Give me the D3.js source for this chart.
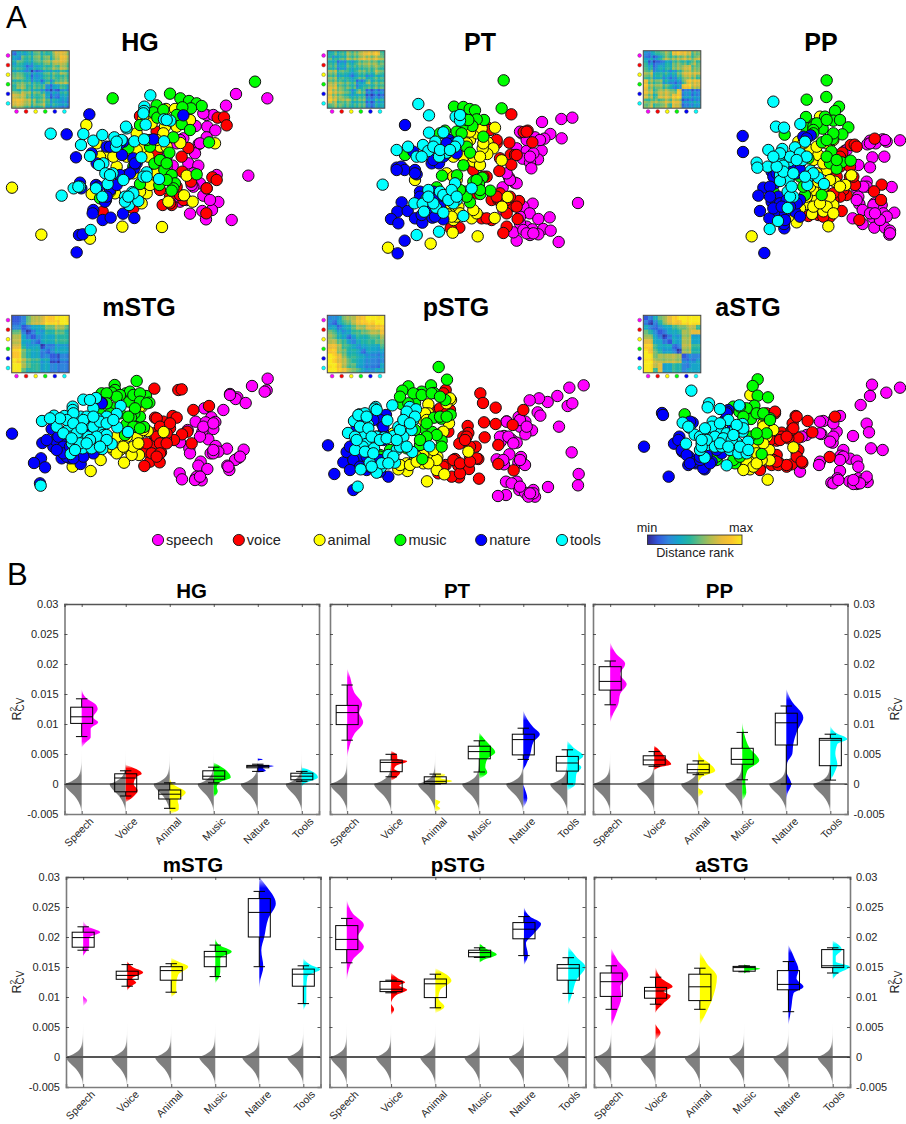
<!DOCTYPE html>
<html>
<head>
<meta charset="utf-8">
<script src="https://d3js.org/d3.v7.min.js"></script>
<style>
  body { margin: 0; background: #fff; }
  text { font-family: "Liberation Sans", Arial, sans-serif; }
</style>
</head>
<body>
<div id="fig"></div>
<script>
const categories = ["speech", "voice", "animal", "music", "nature", "tools"];
const xLabels = ["Speech", "Voice", "Animal", "Music", "Nature", "Tools"];
const catColors = ["#ff00ff", "#ff0000", "#ffff00", "#00ff00", "#0000ff", "#00ffff"];
const yTicks = [30, 25, 20, 15, 10, 5, 0, -5]; // R2 x 1000

// MDS coordinates, arbitrary units
const mdsHG_speech = [[708,282],[802,295],[678,317],[745,527],[695,660],[655,606],[570,641],[618,658],[636,630],[607,633],[620,345],[640,345],[622,380],[646,391],[620,412],[596,432],[585,460],[565,490],[595,497],[518,497],[500,470],[650,525],[587,378],[550,415],[600,550],[580,560],[610,587],[560,600],[540,605],[620,565],[530,430],[575,555],[610,340],[630,600],[600,430],[540,420],[500,500],[535,590],[580,520]];
const mdsHG_voice = [[653,353],[672,352],[680,376],[420,348],[565,444],[545,470],[547,515],[573,545],[637,532],[650,540],[620,565],[550,600],[488,615],[515,615],[619,640],[308,635],[400,625],[470,395],[450,465],[480,570],[510,590],[500,415],[470,460],[540,585],[510,610],[450,420],[530,560]];
const mdsHG_animal = [[36,563],[124,704],[367,680],[486,681],[270,716],[259,375],[578,605],[552,586],[560,527],[645,430],[541,429],[498,327],[525,327],[495,380],[570,360],[410,400],[430,445],[320,460],[275,582],[345,580],[440,580],[425,610],[455,540],[505,605],[430,355],[490,400],[400,520],[480,440],[290,430],[470,420],[500,440],[445,470],[410,450],[380,470],[350,500],[450,555],[470,520],[340,470],[300,470],[330,575],[400,585],[420,575],[530,380],[455,370]];
const mdsHG_music = [[765,245],[338,295],[510,281],[541,295],[567,303],[590,310],[605,318],[573,325],[547,322],[470,316],[460,337],[472,353],[545,372],[570,390],[420,375],[520,412],[627,427],[450,440],[508,458],[463,491],[480,480],[493,510],[515,525],[590,523],[525,550],[520,565],[515,572],[478,555],[420,552],[400,500],[300,595],[385,445],[500,540],[440,420],[490,330],[530,345],[500,490]];
const mdsHG_nature = [[268,343],[200,403],[228,472],[550,346],[460,418],[320,440],[366,465],[275,460],[290,490],[400,475],[403,505],[380,525],[240,548],[244,565],[288,555],[330,570],[318,600],[315,605],[280,630],[278,640],[308,660],[332,653],[369,641],[403,654],[237,705],[248,703],[230,757],[370,425],[345,440],[360,525],[410,490],[300,495],[295,560],[330,440],[360,430],[390,520],[350,555],[405,490],[320,590]];
const mdsHG_tools = [[451,286],[433,320],[432,333],[380,385],[378,380],[437,374],[511,362],[492,358],[152,401],[250,402],[243,435],[280,422],[307,405],[343,412],[348,440],[403,424],[432,418],[492,424],[270,468],[310,490],[297,495],[424,472],[316,520],[338,520],[323,552],[370,540],[440,517],[430,530],[477,537],[221,565],[240,560],[185,587],[288,565],[307,590],[375,590],[397,576],[387,615],[415,603],[272,690],[365,420],[350,425],[400,580],[440,530],[500,360],[375,605],[385,590],[430,340],[235,560],[330,525]];

const mdsPT_speech = [[726,366],[784,357],[817,353],[785,415],[751,402],[733,416],[705,412],[665,400],[650,445],[680,453],[725,452],[668,476],[714,478],[690,488],[694,505],[627,532],[644,548],[650,550],[608,562],[834,609],[776,726],[698,611],[670,620],[689,640],[715,657],[749,652],[680,680],[697,688],[730,687],[752,692],[690,705],[715,703],[650,722],[640,697],[660,670],[640,610],[610,630],[660,395],[680,420],[720,420],[700,460],[690,470],[660,650],[670,690],[680,700],[700,700],[630,540],[620,520]];
const mdsPT_voice = [[634,343],[683,392],[671,396],[697,427],[628,428],[632,464],[645,465],[634,494],[598,513],[600,475],[590,430],[560,380],[560,530],[520,505],[575,600],[600,580],[595,600],[640,618],[657,603],[620,640],[653,657],[620,680],[610,699],[478,683],[452,685],[545,655],[575,660],[530,580],[650,465],[680,395],[600,600],[620,600],[650,620],[560,655],[590,420],[570,390],[520,510],[550,530],[590,590],[630,590]];
const mdsPT_animal = [[585,383],[605,481],[563,427],[580,445],[562,462],[548,445],[520,484],[540,495],[510,420],[490,470],[345,540],[440,520],[470,540],[623,591],[606,620],[584,654],[533,709],[515,655],[530,640],[458,698],[392,731],[264,743],[460,660],[455,640],[475,620],[530,400],[545,385],[500,430],[550,430],[520,470],[540,470],[460,470],[470,650],[440,640],[450,610],[480,640],[520,630],[510,395],[440,460],[460,530],[455,650]];
const mdsPT_music = [[611,241],[605,325],[462,320],[490,321],[509,327],[525,331],[552,360],[530,358],[517,378],[487,380],[478,400],[435,392],[550,410],[500,440],[510,458],[490,496],[426,527],[471,526],[547,533],[537,552],[520,545],[495,575],[541,582],[571,572],[510,607],[410,562],[315,465],[420,400],[500,360],[470,395],[485,400],[540,570],[500,590],[480,570],[530,540],[505,360]];
const mdsPT_nature = [[315,375],[447,420],[340,455],[470,460],[395,490],[417,490],[290,503],[304,500],[314,510],[345,510],[350,523],[360,575],[305,607],[292,635],[323,633],[273,657],[295,670],[345,655],[367,668],[397,653],[430,658],[410,610],[380,630],[314,722],[293,760],[400,575],[400,480],[430,470],[460,430],[440,430],[345,520],[360,590],[400,600],[420,630],[405,650],[365,645],[290,510],[420,620]];
const mdsPT_tools = [[355,312],[387,346],[467,350],[480,362],[387,398],[430,397],[369,435],[406,425],[475,425],[465,440],[290,450],[324,440],[385,453],[350,470],[365,470],[440,458],[417,470],[248,554],[465,550],[385,570],[420,575],[440,585],[450,590],[470,600],[515,565],[380,595],[343,610],[368,611],[372,635],[408,623],[430,638],[490,648],[350,705],[417,695],[460,610],[400,440],[420,450],[450,450],[480,345],[430,585],[445,600],[455,570],[400,610],[385,590],[470,590]];

const mdsPP_speech = [[900,421],[860,425],[848,418],[810,422],[802,433],[827,430],[817,472],[853,470],[810,502],[775,495],[735,452],[875,561],[800,545],[800,560],[770,565],[775,590],[778,612],[788,630],[823,610],[845,615],[850,640],[883,638],[860,650],[818,652],[788,672],[758,655],[823,683],[855,683],[870,692],[868,704],[810,430],[855,420],[790,560],[820,615],[810,640],[840,660],[870,700],[770,600],[740,450],[825,640]];
const mdsPP_voice = [[824,416],[752,435],[764,434],[727,458],[750,530],[765,555],[845,554],[822,574],[843,600],[778,660],[725,633],[690,650],[655,645],[625,648],[740,585],[715,570],[700,520],[720,500],[770,440],[730,570],[720,590],[700,600],[650,620],[690,630],[720,470],[750,500],[710,530],[760,530],[700,580],[670,650]];
const mdsPP_animal = [[455,709],[685,679],[670,634],[636,642],[590,667],[700,615],[690,590],[736,555],[754,526],[705,545],[660,570],[650,600],[620,612],[640,480],[630,450],[655,465],[680,510],[595,425],[660,350],[700,420],[565,650],[670,560],[650,440],[670,490],[650,520],[640,570],[690,540],[620,590],[640,620],[680,620],[700,640],[660,610],[610,430],[680,430],[630,560],[720,560],[655,545],[600,625]];
const mdsPP_music = [[680,241],[679,291],[620,299],[717,320],[705,333],[700,362],[675,350],[618,351],[643,372],[668,386],[620,385],[745,382],[727,403],[698,417],[666,427],[554,404],[694,454],[690,490],[725,487],[752,482],[710,506],[625,475],[600,530],[520,575],[615,585],[665,585],[595,510],[640,380],[650,370],[680,360],[640,390],[700,400],[680,470],[710,480],[610,560],[600,470],[580,510],[640,400],[720,360],[680,420]];
const mdsPP_nature = [[428,408],[429,456],[632,406],[515,515],[600,490],[570,530],[525,550],[490,563],[475,587],[535,590],[515,606],[540,610],[600,600],[480,633],[535,635],[585,635],[600,650],[508,655],[553,685],[552,672],[493,759],[590,520],[555,640],[610,410],[620,415],[520,530],[530,520],[560,600],[590,610],[510,560],[570,620],[555,660],[520,625],[545,620],[580,500],[600,510],[510,590]];
const mdsPP_tools = [[520,305],[528,380],[552,383],[601,372],[615,425],[585,442],[505,450],[547,447],[537,473],[470,488],[503,500],[472,503],[568,483],[605,465],[608,480],[550,497],[540,525],[565,525],[632,512],[625,530],[655,533],[565,542],[540,543],[622,555],[672,552],[563,575],[580,590],[563,624],[534,663],[509,687],[570,470],[600,460],[620,470],[640,520],[615,530],[550,515],[580,520],[570,590],[575,560],[530,500],[540,460],[520,470],[590,480]];

const mdsM_speech = [[803,296],[800,331],[794,335],[756,318],[690,342],[712,352],[707,357],[737,369],[670,390],[613,385],[634,412],[587,425],[617,427],[646,426],[640,447],[607,456],[625,478],[647,498],[681,506],[731,509],[715,534],[705,540],[632,520],[655,515],[568,505],[570,520],[540,487],[563,450],[602,545],[595,557],[622,567],[682,557],[688,570],[539,580],[546,598],[587,595],[605,601],[590,590],[600,470],[610,440],[640,430],[640,520],[690,345],[720,530],[585,600],[600,590],[685,560],[640,510]];
const mdsM_voice = [[463,326],[535,330],[545,328],[580,390],[627,378],[465,413],[518,408],[530,413],[490,425],[510,445],[562,455],[546,463],[522,480],[498,477],[575,490],[460,490],[425,500],[483,517],[450,545],[433,558],[479,547],[460,460],[440,515],[470,415],[480,440],[500,460],[470,470],[440,490],[480,490],[510,430],[500,490],[455,520],[480,520],[470,530]];
const mdsM_animal = [[424,382],[491,456],[443,453],[420,460],[345,480],[360,490],[340,510],[385,507],[417,525],[395,525],[372,548],[302,540],[272,573],[218,560],[400,460],[420,380],[410,470],[380,470],[350,470],[330,500],[360,510],[400,500],[350,520],[370,500],[415,490],[430,450],[320,480]];
const mdsM_music = [[410,303],[344,315],[345,330],[335,338],[305,340],[378,340],[410,348],[438,348],[448,368],[388,365],[340,385],[330,400],[420,410],[403,400],[393,413],[380,432],[432,441],[408,441],[375,465],[300,400],[390,335],[360,345],[350,350],[320,340],[400,345],[420,340],[420,365],[405,385],[440,370],[360,400],[400,440],[420,445],[385,410],[320,370]];
const mdsM_nature = [[36,461],[305,368],[127,489],[155,447],[172,480],[160,500],[185,490],[185,535],[123,535],[102,549],[135,562],[210,535],[242,552],[120,610],[205,460],[270,455],[230,510],[180,510],[165,480],[175,470],[190,500],[200,530],[240,470],[300,455],[280,520],[250,530],[220,535],[140,480],[190,520],[170,510],[210,500],[305,370]];
const mdsM_tools = [[250,359],[288,354],[218,380],[218,390],[362,378],[126,423],[162,407],[193,408],[170,440],[242,410],[280,385],[350,402],[320,410],[292,416],[237,437],[265,432],[205,448],[295,445],[352,442],[384,456],[250,476],[213,470],[310,465],[216,490],[280,490],[303,485],[335,492],[248,505],[275,505],[307,507],[212,522],[122,617],[320,465],[265,470],[270,360],[220,400],[200,420],[260,410],[250,420],[220,430],[280,440],[300,425],[320,430],[190,460],[230,460],[240,490],[290,470],[270,480],[225,510],[320,480],[340,420],[180,415],[150,415],[215,475],[260,490],[300,500],[280,410],[245,445]];

const mdsP_speech = [[851,316],[808,323],[772,348],[743,366],[717,355],[689,361],[803,378],[817,370],[713,397],[721,407],[777,440],[656,411],[620,424],[676,425],[660,440],[696,451],[676,463],[612,468],[602,485],[635,479],[650,488],[815,517],[628,523],[663,531],[655,548],[675,555],[590,538],[612,553],[836,582],[834,616],[744,621],[618,605],[650,605],[635,610],[658,630],[675,638],[700,630],[705,650],[685,650],[618,645],[594,648],[620,425],[660,420],[680,440],[600,470],[625,470],[640,490],[660,540],[700,640],[690,640],[660,620],[610,540]];
const mdsP_voice = [[541,340],[549,369],[587,383],[437,330],[670,390],[552,427],[587,432],[638,435],[415,390],[445,385],[503,438],[505,459],[490,470],[478,491],[527,500],[554,472],[595,495],[595,552],[641,571],[535,537],[510,530],[537,596],[507,567],[477,592],[455,590],[465,537],[475,557],[437,555],[415,580],[445,395],[430,340],[420,385],[450,390],[500,470],[510,500],[530,535],[495,480],[480,580],[460,540],[430,560],[480,550],[510,545],[440,400],[445,455]];
const mdsP_animal = [[453,360],[385,373],[370,420],[385,400],[447,430],[425,458],[505,515],[412,530],[385,525],[410,570],[433,583],[381,604],[322,573],[295,568],[340,545],[370,550],[320,550],[280,460],[375,400],[440,370],[450,355],[430,455],[410,540],[370,525],[350,530],[300,555],[385,550],[400,510],[380,420],[290,480],[330,555],[350,545]];
const mdsP_music = [[416,261],[441,299],[325,319],[307,332],[393,316],[365,335],[402,339],[350,345],[436,360],[305,372],[345,370],[452,404],[402,413],[424,416],[375,447],[397,456],[372,478],[425,482],[360,495],[425,500],[367,537],[315,500],[240,525],[270,510],[340,340],[365,345],[395,340],[420,350],[380,430],[420,410],[440,410],[410,465],[380,470],[345,450],[325,370],[300,350],[240,530],[320,505],[360,480]];
const mdsP_nature = [[84,496],[103,582],[160,630],[130,547],[140,516],[165,558],[178,530],[265,590],[258,405],[245,430],[200,570],[240,540],[250,460],[320,400],[180,425],[165,490],[230,470],[170,440],[150,500],[160,540],[180,560],[240,420],[220,420],[250,440],[330,390],[300,490],[210,560],[240,575],[250,480],[200,530],[150,570]];
const mdsP_tools = [[227,381],[224,386],[277,376],[329,381],[348,388],[178,403],[195,400],[162,423],[316,414],[262,421],[340,420],[204,434],[295,441],[335,450],[144,459],[192,465],[165,470],[230,470],[252,472],[280,468],[310,470],[198,492],[188,500],[222,505],[290,510],[265,525],[337,516],[209,548],[285,548],[182,568],[243,562],[230,578],[173,620],[388,499],[165,510],[230,390],[180,440],[205,445],[175,405],[200,410],[320,395],[345,410],[300,450],[310,420],[170,480],[215,470],[240,480],[260,475],[195,515],[220,520],[280,530],[300,500],[320,500],[245,550],[215,560],[265,550],[290,480],[330,430]];

const mdsA_speech = [[816,314],[900,323],[859,338],[810,348],[782,375],[720,408],[695,425],[670,423],[800,431],[807,457],[759,468],[710,455],[664,462],[620,465],[698,488],[813,505],[848,510],[730,510],[722,527],[750,536],[770,542],[775,560],[660,545],[657,555],[720,573],[600,575],[712,595],[694,608],[748,604],[803,606],[775,595],[770,612],[760,612],[790,600],[800,590],[700,610],[715,600],[780,610],[700,470],[730,530],[720,540],[660,425],[700,430],[760,600],[690,485],[660,460],[605,470]];
const mdsA_voice = [[705,410],[587,408],[623,423],[637,457],[595,473],[565,475],[545,458],[530,482],[578,430],[575,450],[590,518],[607,549],[575,553],[537,548],[525,400],[560,560],[515,555],[689,531],[530,525],[480,565],[505,440],[590,410],[580,445],[545,470],[595,510],[590,530],[605,545],[535,555],[560,555],[520,540],[510,480],[540,480],[500,400],[525,395],[560,470],[530,545],[480,570]];
const mdsA_animal = [[451,345],[520,450],[503,599],[580,502],[508,510],[509,541],[470,541],[430,562],[450,568],[455,548],[490,430],[465,500],[485,540],[500,470],[470,520],[440,545],[460,560],[470,550],[490,490],[490,440],[430,570]];
const mdsA_music = [[473,298],[458,318],[473,347],[504,352],[463,377],[400,380],[418,395],[487,404],[510,415],[453,417],[254,403],[474,478],[485,522],[405,550],[350,540],[430,385],[500,460],[440,385],[420,380],[470,400],[490,400],[430,410],[450,470],[470,460],[400,540],[350,530],[420,530],[510,420]];
const mdsA_nature = [[186,399],[189,405],[132,500],[206,590],[385,390],[375,420],[278,428],[238,470],[222,491],[247,515],[267,530],[265,555],[287,550],[314,568],[335,545],[305,525],[365,520],[270,425],[235,480],[245,510],[260,525],[285,545],[310,565],[330,550],[270,550],[300,540],[380,395],[395,450],[350,510],[320,525],[380,400],[300,530]];
const mdsA_tools = [[274,332],[327,370],[323,382],[360,387],[418,376],[248,428],[268,443],[338,425],[385,420],[428,432],[284,464],[317,455],[360,445],[428,455],[380,460],[258,491],[305,490],[320,495],[410,487],[444,485],[390,510],[415,520],[440,520],[314,533],[380,556],[340,470],[365,480],[300,510],[265,440],[335,440],[360,430],[405,450],[430,445],[345,470],[370,475],[395,480],[300,470],[320,480],[305,500],[345,500],[365,500],[420,500],[445,510],[410,435],[360,490],[315,445],[400,465],[385,500],[305,480]];

// distance rank 0-9, upper triangle of the binned matrix, one string per row
const rdmHG = ["233445445776","24445454676","3334455665","233445565","22344454","2344444","243555","22343","2233","233","22","2"];
const rdmPT = ["344455567774","34455566665","3344556655","344445554","33444454","3443444","225444","34444","2222","222","33","3"];
const rdmPP = ["224455777655","22355556556","2234555465","334556655","33346666","3346665","225777","27766","2222","222","33","3"];
const rdmM = ["112566788999","12566788899","1233455665","123344554","12333444","1333444","122333","12333","1122","122","22","2"];
const rdmP = ["223566789999","13456788899","2345667788","234455667","23444556","2344455","233334","23333","2222","222","23","3"];
const rdmA = ["123567899999","12467889999","1233455664","123346677","12336633","1336633","126644","16644","1222","223","33","3"];

// bin-to-bin streaks seen in the matrices, 0-4 (2 = none)
const streakHG = "213242130423142304213241";
const streakPT = "231402314203142413024132";
const streakPP = "321402231420314213240312";
const streakM = "222322122232123222312221";
const streakP = "223212232122322123222132";
const streakA = "222132221222321222132222";

// boxplots: lo whisker, q1, median, q3, hi whisker (R2 x 1000), one row per category
const boxHG = [[7.9,10.1,11.2,12.8,14.2],[-2.0,-1.3,1.0,1.7,2.2],[-4.05,-2.5,-1.7,-1.0,0.2],[0.2,0.8,1.3,2.2,2.8],[2.1,2.7,2.95,3.1,3.3],[0.45,0.7,1.3,1.8,2.1]];
const boxPT = [[7.3,9.9,11.9,13.1,16.5],[1.2,2.05,3.6,4.0,4.95],[0,0.1,0.45,1.2,1.65],[2.0,4.2,5.4,6.3,7.2],[4.1,4.85,7.4,8.3,9.3],[0,2.15,3.5,4.6,5.7]];
const boxPP = [[13.2,15.65,17.1,19.55,20.5],[2.95,3.2,4.0,4.7,5.4],[1.55,1.85,2.4,3.3,3.85],[0.7,3.3,4.1,5.95,8.6],[0,6.5,10.2,11.8,13],[0.65,3.05,7.3,7.6,8.3]];
const boxM = [[17.8,18.3,19.9,20.8,21.7],[11.8,12.95,13.6,14.3,15.4],[10.8,12.8,14.4,15.05,15.55],[13.4,15.05,16.7,17.6,18.65],[15.05,20,24.1,26.4,27.6],[8.9,11.8,13.8,14.65,15.2]];
const boxP = [[15.7,17.9,19.6,21.9,23.1],[10.7,10.9,11.3,12.6,12.8],[8.2,9.9,12.2,13,13.8],[16.6,16.7,17.4,17.8,18.2],[16.9,19.7,21.3,22.4,23.4],[10.6,12.8,14.8,15.4,16.55]];
const boxA = [[7.95,10.1,12.55,14,15.2],[8.8,9.8,11,11.6,13.3],[7.95,9.4,11.7,13.8,14.8],[14.2,14.3,14.9,15.1,15.2],[7.55,11.2,12.1,14.4,15.9],[14,14.9,15.2,17.9,18.2]];

// half violins: [R2 x 1000, density]
const vioHG = [
  [[15.8,0],[14.4,4],[13.05,15],[12.5,16],[11.1,11.5],[10.3,16.5],[9.2,9],[7.8,9],[6.9,4],[6.1,0]],
  [[3.2,0],[1.7,16],[1.1,10],[0,8],[-1.1,12],[-2.2,7],[-3.05,0]],
  [[1.1,0],[0,3],[-1.4,16],[-2.8,8],[-3.6,9],[-4.2,9],[-5,0]],
  [[3.6,0],[2.2,13],[1.1,17],[0.3,6],[-0.55,3],[-1.2,4],[-2.2,0]],
  [[4.35,0],[4.1,5],[3.9,0],[3.3,0],[3,16],[2.7,5],[2.2,8],[1.85,0]],
  [[2.8,0],[2.3,8],[1.55,15],[1.1,16],[0.45,8],[0,2],[-0.5,0]]
];
const vioPT = [
  [[19.2,0],[17.8,3],[15.3,7],[13.3,15],[11.9,12],[10.3,16],[8.3,7],[6.1,2],[4.4,0]],
  [[5.55,0],[4.7,6],[4.2,6],[3.8,16],[3.05,5],[2.5,3],[1.95,9],[1.1,5],[0.55,0]],
  [[1.95,0],[1.55,10],[1,5],[0.5,17],[-0.1,0],[-2.5,0],[-2.95,5],[-3.6,2],[-4.1,5],[-4.65,0]],
  [[8.6,0],[7.5,5],[6.4,11],[5.3,16],[4.15,8],[2.8,6],[1.95,8],[0.85,0]],
  [[12.2,0],[10.8,4],[9.45,10],[8.3,16.5],[6.95,10],[5,7],[3.3,3],[2.2,0],[0,0],[-0.55,1],[-2.4,4],[-3.9,0]],
  [[7.2,0],[6.1,6],[4.7,16],[3.6,10],[2.8,14],[1.65,9],[0,8],[-1.1,0]]
];
const vioPP = [
  [[23.6,0],[21.7,6],[20.05,15],[18.3,10],[16.65,16.5],[15,10],[13.3,8],[11.7,3],[10.3,0]],
  [[6.4,0],[5.3,7],[4.2,12],[3.3,17],[2.8,5],[2.2,0]],
  [[5.65,0],[4.45,3],[3.45,11],[2.2,17],[1.1,3],[0,0],[-0.55,0],[-1.3,5],[-2.2,0]],
  [[10.3,0],[8.3,2],[6.1,7],[3.9,17],[2.2,5],[0.55,3],[-1.4,4],[-2.8,0]],
  [[15.8,0],[13.9,5],[11.1,17],[8.9,11],[6.65,7],[5,6],[3.6,1],[2.2,0],[0,5],[-1.65,1],[-2.8,0]],
  [[9.7,0],[8.6,5],[7.5,17],[6.65,7],[5,5],[3.3,7],[2.2,5],[0.55,0]]
];
const vioM = [
  [[22.7,0],[21.7,5],[20.8,17],[19.9,6],[18.4,6],[16.7,0],[15.6,0],[10.3,0],[9.4,4],[8.5,0]],
  [[16,0],[15.05,5],[14.1,16],[13.1,5],[12.4,9],[11.7,3],[11.05,0]],
  [[16.55,0],[15.9,7],[15.05,17],[13.7,7],[12,5],[10.9,5],[9.95,0]],
  [[19.8,0],[18.65,4],[17.55,16.5],[16.45,5],[14.2,5],[13.4,4],[12.3,0]],
  [[30,0],[28.7,6],[25.6,16.5],[23.1,9],[20,5],[17.8,2],[15.05,4],[12.8,1],[11.45,0]],
  [[16.45,0],[15.3,8],[14.65,17],[13.4,4],[11.2,3],[9.2,3],[7.8,0]]
];
const vioP = [
  [[26.15,0],[23.9,6],[22,17],[20,11],[18.4,17],[16.2,6],[12.85,0]],
  [[14.05,0],[13.1,7],[12.45,14],[11.9,8],[11.2,16],[10.3,5],[9.5,1],[8.95,0],[7.95,3],[7,0]],
  [[14.8,0],[12.7,16],[11.2,5],[9.8,3],[8.4,9],[7.3,0]],
  [[18.95,0],[18.1,6],[17.1,17],[16.2,4],[15.7,0]],
  [[24.95,0],[23.4,6],[22.2,17],[20.6,10],[18.95,2],[17,4],[15.35,0]],
  [[18.4,0],[16.7,8],[15.05,17],[12.8,8],[10.6,4],[8.65,0]]
];
const vioA = [
  [[18.1,0],[16.2,6],[13.65,17],[11.7,9],[10.05,10],[7.3,5],[5.05,0]],
  [[14.95,0],[13.1,6],[11.7,17],[10.9,8],[10.2,15],[8.95,8],[7.3,0],[5.6,0],[4.05,5],[2.85,0]],
  [[17.55,0],[15.6,7],[13.4,17],[9.5,12],[7.3,6],[5.35,0]],
  [[15.5,0],[15.05,6],[14.7,16],[14.4,6],[13.85,0]],
  [[18.65,0],[16.45,6],[14.5,10],[13.1,8],[11.7,15],[10.6,5],[8.4,3],[7.3,2],[5.35,0]],
  [[19.4,0],[17.9,9],[16.7,3],[15.9,3],[15.05,17],[13.9,5],[12.85,0]]
];

// permutation null, shared shape: [R2 x 1000, fraction of peak]
const nullShape = [[6,0],[5,0.008],[4,0.014],[3,0.035],[2,0.09],[1,0.3],[0.3,0.72],[0,1],[-0.3,0.98],[-1,0.78],[-2,0.42],[-3,0.18],[-4,0.05],[-5,0.012]];
const nullPeakHG = [17,16,16,16,17,16];
const nullPeakPT = [17,17,17,17,17,17];
const nullPeakPP = [17,17,17,17,17,17];
const nullPeakM = [17,16,16,16,17,16];
const nullPeakP = [16,15,15,15,15,15];
const nullPeakA = [16,15,15,15,15,15];

const colorStops = ["#33278f", "#3358dc", "#2f86dc", "#14a6c8", "#25b5a0", "#6cbc78", "#b0bd50", "#e6bb3c", "#fcc52c", "#f8ea1c"];
const rankColor = d3.scaleLinear().domain(d3.range(10)).range(colorStops).clamp(true);

const svg = d3.select("#fig").append("svg").attr("width", 906).attr("height", 1124);
const defs = svg.append("defs");
defs.append("filter").attr("id", "soft")
  .append("feGaussianBlur").attr("stdDeviation", 0.35);

// vertical fade for the violin tails
const nullGrad = defs.append("linearGradient").attr("id", "nullFade").attr("x1", 0).attr("x2", 0).attr("y1", 0).attr("y2", 1);
[[0, "#ffffff"], [0.2, "#e4e4e4"], [0.42, "#7f7f7f"], [0.85, "#7f7f7f"], [1, "#d8d8d8"]].forEach(s => {
  nullGrad.append("stop").attr("offset", s[0]).attr("stop-color", s[1]);
});
catColors.forEach((col, c) => {
  const gr = defs.append("linearGradient").attr("id", "fade" + c).attr("x1", 0).attr("x2", 0).attr("y1", 0).attr("y2", 1);
  [[0, 0.15], [0.1, 1], [0.9, 1], [1, 0.15]].forEach(s => {
    gr.append("stop").attr("offset", s[0]).attr("stop-color", col).attr("stop-opacity", s[1]);
  });
});

// panel letters
svg.append("text").attr("x", 6).attr("y", 28).attr("font-size", 31).text("A");
svg.append("text").attr("x", 7).attr("y", 585).attr("font-size", 31).text("B");

const panelsA = [
  {name: "HG", ox: 0, oy: 0, tx: 140, ty: 51, ix: 11.7, iy: 50.7, rdm: rdmHG, streak: streakHG, sk: 0.4, mds: [mdsHG_speech, mdsHG_voice, mdsHG_animal, mdsHG_music, mdsHG_nature, mdsHG_tools]},
  {name: "PT", ox: 300, oy: 0, tx: 480, ty: 51, ix: 327.3, iy: 50.7, rdm: rdmPT, streak: streakPT, sk: 0.4, mds: [mdsPT_speech, mdsPT_voice, mdsPT_animal, mdsPT_music, mdsPT_nature, mdsPT_tools]},
  {name: "PP", ox: 600, oy: 0, tx: 821, ty: 51, ix: 643.3, iy: 50.7, rdm: rdmPP, streak: streakPP, sk: 0.4, mds: [mdsPP_speech, mdsPP_voice, mdsPP_animal, mdsPP_music, mdsPP_nature, mdsPP_tools]},
  {name: "mSTG", ox: 0, oy: 280, tx: 139, ty: 316, ix: 11.7, iy: 315.3, rdm: rdmM, streak: streakM, sk: 0.4, mds: [mdsM_speech, mdsM_voice, mdsM_animal, mdsM_music, mdsM_nature, mdsM_tools]},
  {name: "pSTG", ox: 300, oy: 280, tx: 456, ty: 316, ix: 327.3, iy: 315.3, rdm: rdmP, streak: streakP, sk: 0.4, mds: [mdsP_speech, mdsP_voice, mdsP_animal, mdsP_music, mdsP_nature, mdsP_tools]},
  {name: "aSTG", ox: 600, oy: 280, tx: 748, ty: 316, ix: 643.3, iy: 315.3, rdm: rdmA, streak: streakA, sk: 0.4, mds: [mdsA_speech, mdsA_voice, mdsA_animal, mdsA_music, mdsA_nature, mdsA_tools]}
];

panelsA.forEach((p, pi) => {
  const g = svg.append("g");
  const sx = d3.scaleLinear().domain([0, 918]).range([p.ox, p.ox + 306]);
  const sy = d3.scaleLinear().domain([0, 810]).range([p.oy, p.oy + 270]);

  p.mds.forEach((pts, c) => {
    g.append("g").selectAll("circle")
      .data(pts)
      .enter()
      .append("circle")
      .attr("cx", d => sx(d[0]))
      .attr("cy", d => sy(d[1]))
      .attr("r", 5.7)
      .attr("fill", catColors[c])
      .attr("stroke", "#111")
      .attr("stroke-width", 1);
  });

  g.append("text").attr("x", p.tx).attr("y", p.ty)
    .attr("text-anchor", "middle").attr("font-size", 25).attr("font-weight", "bold")
    .text(p.name);

  // distance matrix inset, binned values plus the streaks
  const size = 57.5;
  const blockAt = (i, j) => {
    const a = Math.min(i, j), b = Math.max(i, j);
    return +p.rdm[a][b - a];
  };
  const cells = [];
  d3.range(24).forEach(i => {
    d3.range(24).forEach(j => {
      const v = blockAt(Math.floor(i / 2), Math.floor(j / 2));
      const s = (+p.streak[i] - 2) + (+p.streak[j] - 2);
      cells.push({i: i, j: j, v: v + s * p.sk});
    });
  });
  const bins = d3.range(24);
  const bx = d3.scaleBand().domain(bins).range([p.ix, p.ix + size]);
  const by = d3.scaleBand().domain(bins).range([p.iy, p.iy + size]);
  const clipId = "clip" + pi;
  defs.append("clipPath").attr("id", clipId).append("rect")
    .attr("x", p.ix).attr("y", p.iy).attr("width", size).attr("height", size);
  g.append("g").attr("clip-path", `url(#${clipId})`)
    .append("g").attr("filter", "url(#soft)")
    .selectAll("rect")
    .data(cells)
    .enter()
    .append("rect")
    .attr("x", d => bx(d.j))
    .attr("y", d => by(d.i))
    .attr("width", bx.bandwidth() + 0.4)
    .attr("height", by.bandwidth() + 0.4)
    .attr("fill", d => rankColor(d.v));
  g.append("rect").attr("x", p.ix).attr("y", p.iy).attr("width", size).attr("height", size)
    .attr("fill", "none").attr("stroke", "#444").attr("stroke-width", 1);

  const dotScale = d3.scaleBand().domain(categories).range([0, size]);
  categories.forEach((c, k) => {
    g.append("circle").attr("cx", p.ix - 3.7).attr("cy", p.iy + dotScale(c) + dotScale.bandwidth() / 2)
      .attr("r", 1.9).attr("fill", catColors[k]).attr("stroke", "#555").attr("stroke-width", 0.4);
    g.append("circle").attr("cx", p.ix + dotScale(c) + dotScale.bandwidth() / 2).attr("cy", p.iy + size + 3.3)
      .attr("r", 1.9).attr("fill", catColors[k]).attr("stroke", "#555").attr("stroke-width", 0.4);
  });
});

// category legend
const legendX = d3.scalePoint().domain(categories).range([158, 562]);
categories.forEach((c, k) => {
  svg.append("circle").attr("cx", legendX(c)).attr("cy", 540).attr("r", 5.6)
    .attr("fill", catColors[k]).attr("stroke", "#111").attr("stroke-width", 0.9);
  svg.append("text").attr("x", legendX(c) + 8).attr("y", 545).attr("font-size", 14.6)
    .attr("fill", "#222").text(c);
});

// colorbar
const grad = defs.append("linearGradient").attr("id", "rankGrad");
colorStops.forEach((s, k) => {
  grad.append("stop").attr("offset", (k / 9 * 100) + "%").attr("stop-color", s);
});
svg.append("rect").attr("x", 647.5).attr("y", 535).attr("width", 94.5).attr("height", 9.5)
  .attr("fill", "url(#rankGrad)").attr("stroke", "#222").attr("stroke-width", 0.8);
svg.append("text").attr("x", 647).attr("y", 532).attr("text-anchor", "middle").attr("font-size", 12.7).attr("fill", "#222").text("min");
svg.append("text").attr("x", 741).attr("y", 532).attr("text-anchor", "middle").attr("font-size", 12.7).attr("fill", "#222").text("max");
svg.append("text").attr("x", 695).attr("y", 556.5).attr("text-anchor", "middle").attr("font-size", 12.7).attr("fill", "#222").text("Distance rank");

// part B
const panelsB = [
  {name: "HG", l: 64.5, r: 319, t: 604, b: 814, tx: 191.5, ty: 598, box: boxHG, vio: vioHG, peak: nullPeakHG, side: "left", zero: "#000", zw: 1.2},
  {name: "PT", l: 330, r: 584.5, t: 604, b: 814, tx: 457, ty: 598, box: boxPT, vio: vioPT, peak: nullPeakPT, side: "", zero: "#000", zw: 1.2},
  {name: "PP", l: 593, r: 847.5, t: 604, b: 814, tx: 719.5, ty: 598, box: boxPP, vio: vioPP, peak: nullPeakPP, side: "right", zero: "#000", zw: 1.2},
  {name: "mSTG", l: 66, r: 320.5, t: 877, b: 1087, tx: 193, ty: 872, box: boxM, vio: vioM, peak: nullPeakM, side: "left", zero: "#555", zw: 1.8},
  {name: "pSTG", l: 329.5, r: 585.5, t: 877, b: 1087, tx: 458, ty: 872, box: boxP, vio: vioP, peak: nullPeakP, side: "", zero: "#555", zw: 1.8},
  {name: "aSTG", l: 594, r: 850, t: 877, b: 1087, tx: 722, ty: 872, box: boxA, vio: vioA, peak: nullPeakA, side: "right", zero: "#555", zw: 1.8}
];

panelsB.forEach(p => {
  const g = svg.append("g");
  const x = d3.scalePoint().domain(xLabels).range([p.l, p.r]).padding(0.39);
  const y = d3.scaleLinear().domain([-5, 30]).range([p.b, p.t]);
  const w = d3.scaleLinear().domain([0, 44]).range([0, x.step()]);

  g.append("text").attr("x", p.tx).attr("y", p.ty)
    .attr("text-anchor", "middle").attr("font-size", 20.5).attr("font-weight", "bold")
    .text(p.name);

  xLabels.forEach((lab, c) => {
    const cx = x(lab);
    // gray null on the left
    const nullArea = d3.area().curve(d3.curveMonotoneY)
      .y(d => y(d[0]))
      .x0(cx)
      .x1(d => cx - w(d[1] * p.peak[c]));
    g.append("path").datum(nullShape).attr("d", nullArea).attr("fill", "url(#nullFade)");

    // coloured half violin on the right
    const vioArea = d3.area().curve(d3.curveMonotoneY)
      .y(d => y(d[0]))
      .x0(cx)
      .x1(d => cx + w(d[1]));
    g.append("path").datum(p.vio[c]).attr("d", vioArea).attr("fill", `url(#fade${c})`);
  });

  g.append("line").attr("x1", p.l).attr("x2", p.r).attr("y1", y(0)).attr("y2", y(0))
    .attr("stroke", p.zero).attr("stroke-width", p.zw);

  // boxes
  const boxW = x.step() * 0.5;
  const capW = x.step() * 0.26;
  xLabels.forEach((lab, c) => {
    const cx = x(lab);
    const b = p.box[c];
    const bg = g.append("g").attr("fill", "none").attr("stroke", "#000").attr("stroke-width", 1);
    bg.append("line").attr("x1", cx).attr("x2", cx).attr("y1", y(b[4])).attr("y2", y(b[3]));
    bg.append("line").attr("x1", cx).attr("x2", cx).attr("y1", y(b[1])).attr("y2", y(b[0]));
    bg.append("line").attr("x1", cx - capW / 2).attr("x2", cx + capW / 2).attr("y1", y(b[4])).attr("y2", y(b[4]));
    bg.append("line").attr("x1", cx - capW / 2).attr("x2", cx + capW / 2).attr("y1", y(b[0])).attr("y2", y(b[0]));
    bg.append("rect").attr("x", cx - boxW / 2).attr("width", boxW)
      .attr("y", y(b[3])).attr("height", y(b[1]) - y(b[3]));
    bg.append("line").attr("x1", cx - boxW / 2).attr("x2", cx + boxW / 2).attr("y1", y(b[2])).attr("y2", y(b[2]));
  });

  // axes, ticks pointing inward on every side
  const yFmt = d => d / 1000;
  const axL = g.append("g").attr("transform", `translate(${p.l},0)`)
    .call(d3.axisLeft(y).tickValues(yTicks).tickSize(-3).tickPadding(6).tickFormat(yFmt));
  const axR = g.append("g").attr("transform", `translate(${p.r},0)`)
    .call(d3.axisRight(y).tickValues(yTicks).tickSize(-3).tickPadding(6).tickFormat(yFmt));
  const axB = g.append("g").attr("transform", `translate(0,${p.b})`)
    .call(d3.axisBottom(x).tickSize(-3));
  const axT = g.append("g").attr("transform", `translate(0,${p.t})`)
    .call(d3.axisTop(x).tickSize(-3).tickFormat(""));

  [axL, axR, axB, axT].forEach(a => {
    a.select(".domain").attr("stroke", "#7c7c7c").attr("stroke-width", 1.6);
    a.selectAll(".tick line").attr("stroke", "#333").attr("stroke-width", 0.8);
  });
  axT.select(".domain").attr("stroke", "#555");

  axL.selectAll("text").attr("font-size", 11).attr("fill", "#262626")
    .attr("font-family", "Liberation Sans");
  axR.selectAll("text").attr("font-size", 11).attr("fill", "#262626")
    .attr("font-family", "Liberation Sans");
  if (p.side !== "left") axL.selectAll("text").remove();
  if (p.side !== "right") axR.selectAll("text").remove();

  axB.selectAll("text")
    .attr("font-size", 10.6).attr("fill", "#262626")
    .attr("font-family", "Liberation Sans")
    .attr("text-anchor", "end")
    .attr("x", 0).attr("y", 0).attr("dy", 0)
    .attr("transform", "translate(12,8) rotate(-45)");

  // axis name
  if (p.side) {
    const lx = p.side === "left" ? 21 : 899;
    const ly = y(12.5);
    const t = g.append("text").attr("transform", `translate(${lx},${ly}) rotate(-90)`)
      .attr("text-anchor", "middle").attr("font-size", 12.5).attr("fill", "#262626");
    t.append("tspan").text("R");
    t.append("tspan").attr("font-size", 8.5).attr("dy", -5.5).text("2");
    t.append("tspan").attr("font-size", 10).attr("dx", -4.7).attr("dy", 8).text("CV");
  }
});
</script>
</body>
</html>
